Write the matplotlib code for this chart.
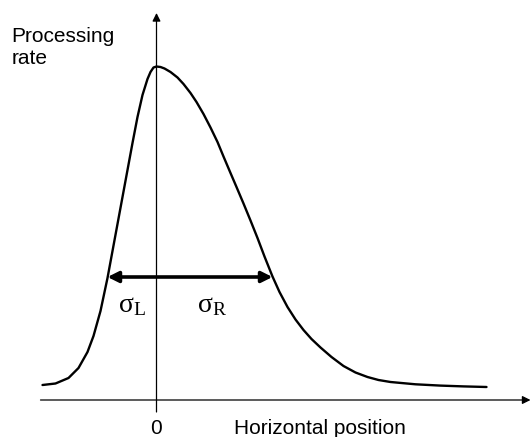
import matplotlib
matplotlib.use("Agg")
import matplotlib.pyplot as plt

plt.rcParams['mathtext.fontset'] = 'custom'
plt.rcParams['mathtext.rm'] = 'Liberation Serif'
plt.rcParams['mathtext.it'] = 'Liberation Serif'
plt.rcParams['font.family'] = ['Liberation Sans', 'DejaVu Sans']

# Curve: horizontal position vs processing rate
pos = [-114, -101, -88, -78, -69, -63, -56, -49, -44, -39, -34, -29, -24,
       -19, -14, -9, -6, -3, 0, 4, 8, 14, 21, 27, 34, 40, 47, 54, 61, 67, 74,
       80, 87, 94, 101, 108, 116, 123, 131, 139, 147, 155, 164, 175, 187,
       199, 211, 222, 234, 259, 284, 307, 330]
rate = [15, 16.5, 22, 32, 48, 64, 89, 122, 149, 176, 203, 230, 257,
        283, 305, 321, 328, 332.5, 333.5, 333, 331.5, 328, 322.5, 316, 307,
        298, 286, 272.5, 258, 243.5, 227, 213, 196.5, 179.5, 162, 143.5,
        123.5, 108, 93, 80.5, 70, 61, 52.5, 43, 34, 27.5, 23, 20, 18, 15.7,
        14.4, 13.6, 13]

# Width markers (left and right edge of the double arrow) and labels
sigma_left = -49
sigma_right = 116
sigma_level = 123
xlabel = "Horizontal position"
ylabel = "Processing\nrate"
zero_label = "0"

fig = plt.figure(figsize=(5.31, 4.37), dpi=100)
ax = fig.add_axes([0, 0, 1, 1])
ax.set_xlim(-156.5, 374.5)
ax.set_ylim(-37, 400)
ax.axis('off')

# axes with arrows
ax.annotate('', xy=(374, 0), xytext=(-116, 0),
            arrowprops=dict(arrowstyle='-|>', lw=0.9, color='black',
                            mutation_scale=12, shrinkA=0, shrinkB=0))
ax.annotate('', xy=(0, 387), xytext=(0, -12),
            arrowprops=dict(arrowstyle='-|>', lw=0.9, color='black',
                            mutation_scale=12, shrinkA=0, shrinkB=0))

# curve
ax.plot(pos, rate, color='black', lw=1.7, solid_capstyle='round',
        solid_joinstyle='round', antialiased=True)

# double arrow
ax.annotate('', xy=(sigma_right, sigma_level), xytext=(sigma_left, sigma_level),
            arrowprops=dict(arrowstyle='<|-|>', lw=2.6, color='black',
                            mutation_scale=16, shrinkA=0, shrinkB=0))

ax.text(-25, 95, r'$\mathrm{\sigma}_\mathrm{L}$', fontsize=20,
        ha='center', va='center')
ax.text(56, 95, r'$\mathrm{\sigma}_\mathrm{R}$', fontsize=20,
        ha='center', va='center')

ax.text(-145, 353, ylabel, fontsize=15, ha='left', va='center',
        linespacing=1.2)
ax.text(0, -29, zero_label, fontsize=15, ha='center', va='center')
ax.text(163, -29, xlabel, fontsize=15, ha='center', va='center')

fig.savefig('out.png', dpi=100)
